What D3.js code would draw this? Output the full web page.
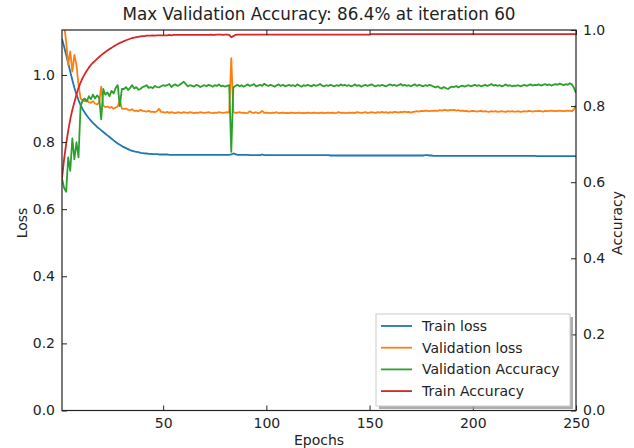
<!DOCTYPE html>
<html>
<head>
<meta charset="utf-8">
<script src="https://cdn.jsdelivr.net/npm/d3@7"></script>
<style>
  body { margin: 0; background: #fff; }
  text { font-family: "DejaVu Sans", sans-serif; fill: #222; }
</style>
</head>
<body>
<div id="chart"></div>
<script>
// values, one per epoch (1..250)
var trainLoss = [
  1.107,1.085,1.06,1.035,1.01,0.985,0.962,0.942,0.925,0.91,
  0.898,0.888,0.879,0.871,0.864,0.857,0.851,0.845,0.84,0.835,
  0.83,0.825,0.82,0.815,0.81,0.805,0.8,0.796,0.792,0.788,
  0.785,0.782,0.779,0.776,0.774,0.772,0.771,0.77,0.768,0.767,
  0.766,0.766,0.765,0.765,0.764,0.764,0.764,0.763,0.763,0.763,
  0.763,0.763,0.762,0.762,0.762,0.762,0.762,0.762,0.762,0.762,
  0.762,0.762,0.762,0.762,0.762,0.762,0.762,0.762,0.762,0.762,
  0.762,0.762,0.762,0.762,0.762,0.762,0.762,0.762,0.762,0.762,
  0.762,0.762,0.763,0.766,0.764,0.762,0.762,0.762,0.762,0.762,
  0.762,0.761,0.761,0.761,0.761,0.761,0.761,0.763,0.761,0.761,
  0.761,0.761,0.761,0.761,0.761,0.761,0.761,0.761,0.761,0.761,
  0.761,0.761,0.761,0.761,0.761,0.761,0.761,0.761,0.761,0.761,
  0.761,0.761,0.761,0.761,0.761,0.761,0.761,0.761,0.761,0.761,
  0.76,0.76,0.76,0.76,0.76,0.76,0.76,0.76,0.76,0.76,
  0.76,0.76,0.76,0.76,0.76,0.76,0.76,0.76,0.76,0.76,
  0.76,0.76,0.76,0.76,0.76,0.76,0.76,0.76,0.76,0.76,
  0.76,0.76,0.76,0.76,0.76,0.76,0.76,0.76,0.76,0.76,
  0.76,0.76,0.76,0.76,0.76,0.76,0.761,0.761,0.76,0.76,
  0.759,0.759,0.759,0.759,0.759,0.759,0.759,0.759,0.759,0.759,
  0.759,0.759,0.759,0.759,0.759,0.759,0.759,0.759,0.759,0.759,
  0.759,0.759,0.759,0.759,0.759,0.759,0.759,0.759,0.759,0.759,
  0.759,0.759,0.759,0.759,0.759,0.759,0.759,0.759,0.759,0.759,
  0.759,0.759,0.759,0.759,0.759,0.759,0.759,0.759,0.759,0.759,
  0.758,0.758,0.758,0.758,0.758,0.758,0.758,0.758,0.758,0.758,
  0.758,0.758,0.758,0.758,0.758,0.758,0.758,0.758,0.758,0.758
];
var valLoss = [
  1.16,1.15,1.10,1.03,1.07,1.01,1.06,1.03,0.97,0.93,
  0.925,0.922,0.925,0.919,0.917,0.922,0.915,0.912,0.918,0.965,
  0.908,0.904,0.906,0.902,0.905,0.899,0.903,0.906,0.925,0.9,
  0.898,0.9,0.896,0.895,0.898,0.893,0.894,0.892,0.896,0.893,
  0.892,0.891,0.893,0.89,0.891,0.889,0.892,0.899,0.89,0.889,
  0.888,0.89,0.887,0.889,0.888,0.886,0.889,0.888,0.887,0.889,
  0.888,0.887,0.889,0.888,0.886,0.888,0.887,0.889,0.888,0.887,
  0.888,0.889,0.887,0.886,0.888,0.887,0.889,0.888,0.887,0.888,
  0.889,0.888,1.05,0.889,0.887,0.888,0.889,0.887,0.888,0.886,
  0.887,0.892,0.888,0.887,0.889,0.886,0.888,0.893,0.887,0.888,
  0.887,0.886,0.888,0.887,0.889,0.886,0.887,0.888,0.886,0.887,
  0.886,0.888,0.887,0.886,0.887,0.888,0.886,0.887,0.886,0.888,
  0.887,0.886,0.888,0.887,0.886,0.887,0.888,0.886,0.887,0.888,
  0.887,0.888,0.886,0.887,0.889,0.887,0.888,0.887,0.886,0.888,
  0.887,0.888,0.887,0.889,0.888,0.887,0.888,0.889,0.887,0.888,
  0.889,0.888,0.887,0.889,0.888,0.89,0.888,0.889,0.887,0.889,
  0.888,0.89,0.889,0.888,0.89,0.889,0.891,0.889,0.89,0.888,
  0.89,0.891,0.892,0.891,0.893,0.892,0.894,0.893,0.892,0.893,
  0.893,0.894,0.893,0.895,0.894,0.896,0.895,0.894,0.896,0.895,
  0.896,0.894,0.895,0.893,0.894,0.892,0.893,0.891,0.892,0.893,
  0.892,0.891,0.892,0.893,0.891,0.892,0.891,0.89,0.892,0.891,
  0.892,0.89,0.891,0.892,0.891,0.89,0.892,0.891,0.892,0.891,
  0.891,0.892,0.89,0.891,0.892,0.891,0.893,0.892,0.891,0.892,
  0.892,0.893,0.892,0.891,0.893,0.892,0.893,0.894,0.893,0.892,
  0.893,0.894,0.893,0.892,0.893,0.894,0.893,0.892,0.897,0.91
];
var valAcc = [
  0.61,0.585,0.575,0.665,0.63,0.715,0.66,0.705,0.665,0.80,
  0.815,0.82,0.812,0.826,0.818,0.83,0.82,0.828,0.822,0.765,
  0.845,0.83,0.836,0.826,0.84,0.833,0.848,0.855,0.80,0.845,
  0.845,0.85,0.842,0.848,0.855,0.846,0.85,0.843,0.845,0.85,
  0.852,0.855,0.848,0.85,0.847,0.853,0.85,0.849,0.852,0.855,
  0.853,0.855,0.858,0.85,0.855,0.857,0.853,0.856,0.86,0.864,
  0.858,0.852,0.855,0.853,0.851,0.856,0.854,0.85,0.853,0.855,
  0.852,0.856,0.854,0.851,0.855,0.853,0.857,0.852,0.854,0.851,
  0.853,0.855,0.68,0.849,0.853,0.856,0.852,0.855,0.851,0.854,
  0.857,0.853,0.855,0.858,0.852,0.854,0.856,0.853,0.859,0.855,
  0.853,0.856,0.854,0.851,0.855,0.857,0.853,0.856,0.852,0.854,
  0.856,0.853,0.855,0.852,0.857,0.854,0.851,0.855,0.853,0.856,
  0.854,0.852,0.856,0.853,0.855,0.858,0.854,0.852,0.855,0.853,
  0.856,0.854,0.852,0.855,0.853,0.857,0.854,0.856,0.853,0.855,
  0.852,0.854,0.857,0.853,0.855,0.851,0.854,0.856,0.853,0.855,
  0.857,0.854,0.852,0.855,0.853,0.856,0.854,0.852,0.855,0.857,
  0.854,0.856,0.853,0.855,0.858,0.854,0.856,0.853,0.855,0.852,
  0.855,0.857,0.853,0.856,0.854,0.852,0.855,0.853,0.856,0.854,
  0.851,0.849,0.852,0.848,0.846,0.85,0.847,0.845,0.849,0.851,
  0.85,0.853,0.849,0.852,0.854,0.851,0.853,0.855,0.852,0.854,
  0.856,0.853,0.855,0.852,0.854,0.856,0.853,0.855,0.858,0.854,
  0.856,0.853,0.855,0.852,0.854,0.857,0.853,0.855,0.852,0.854,
  0.853,0.855,0.852,0.854,0.856,0.853,0.855,0.857,0.854,0.856,
  0.855,0.857,0.854,0.856,0.858,0.855,0.857,0.854,0.856,0.858,
  0.856,0.859,0.857,0.855,0.858,0.856,0.86,0.857,0.848,0.835
];
var trainAcc = [
  0.61,0.66,0.70,0.735,0.765,0.79,0.81,0.83,0.848,0.862,
  0.874,0.884,0.893,0.901,0.908,0.914,0.919,0.924,0.929,0.934,
  0.938,0.942,0.946,0.95,0.953,0.957,0.96,0.963,0.966,0.968,
  0.971,0.973,0.975,0.977,0.979,0.98,0.981,0.982,0.983,0.984,
  0.984,0.985,0.985,0.985,0.986,0.985,0.986,0.986,0.986,0.986,
  0.986,0.986,0.987,0.986,0.987,0.987,0.987,0.987,0.987,0.987,
  0.987,0.987,0.987,0.987,0.987,0.987,0.987,0.987,0.987,0.987,
  0.987,0.987,0.988,0.987,0.987,0.988,0.988,0.988,0.987,0.988,
  0.988,0.987,0.981,0.984,0.987,0.988,0.988,0.988,0.988,0.988,
  0.988,0.988,0.988,0.988,0.988,0.988,0.988,0.988,0.988,0.988,
  0.988,0.988,0.988,0.988,0.988,0.988,0.988,0.988,0.988,0.988,
  0.988,0.988,0.988,0.988,0.988,0.988,0.988,0.988,0.988,0.988,
  0.988,0.988,0.988,0.988,0.988,0.988,0.988,0.988,0.988,0.988,
  0.988,0.988,0.988,0.988,0.988,0.988,0.988,0.988,0.988,0.988,
  0.988,0.988,0.988,0.988,0.988,0.988,0.988,0.988,0.988,0.988,
  0.989,0.989,0.989,0.989,0.989,0.989,0.989,0.989,0.989,0.989,
  0.989,0.989,0.989,0.989,0.989,0.989,0.989,0.989,0.989,0.989,
  0.989,0.989,0.989,0.989,0.989,0.989,0.989,0.989,0.989,0.989,
  0.989,0.989,0.989,0.989,0.989,0.989,0.989,0.989,0.989,0.989,
  0.989,0.989,0.989,0.989,0.989,0.989,0.989,0.989,0.989,0.989,
  0.989,0.989,0.989,0.989,0.989,0.989,0.989,0.989,0.989,0.989,
  0.989,0.989,0.989,0.989,0.989,0.989,0.989,0.989,0.989,0.989,
  0.989,0.989,0.989,0.989,0.989,0.989,0.989,0.989,0.989,0.989,
  0.989,0.989,0.989,0.989,0.989,0.989,0.989,0.989,0.989,0.989,
  0.989,0.989,0.989,0.989,0.989,0.989,0.989,0.989,0.989,0.989
];
var xTicks = [50, 100, 150, 200, 250];
var yTicks = [0, 0.2, 0.4, 0.6, 0.8, 1.0];
var seriesNames = ["Train loss", "Validation loss", "Validation Accuracy", "Train Accuracy"];
var colors = ["#1f77b4", "#ff7f0e", "#2ca02c", "#d62728"];
var title = "Max Validation Accuracy: 86.4% at iteration 60";

var W = 634, H = 448;
var margin = { top: 30, right: 58, bottom: 37.5, left: 62 },
  width = W - margin.left - margin.right,
  height = H - margin.top - margin.bottom;

var svg = d3.select("#chart").append("svg")
  .attr("width", W).attr("height", H);

var g = svg.append("g")
  .attr("transform", "translate(" + margin.left + "," + margin.top + ")");

var xScale = d3.scaleLinear().domain([1, 250]).range([0, width]);
var yLoss = d3.scaleLinear().domain([0, 1.134]).range([height, 0]);
var yAcc = d3.scaleLinear().domain([0, 1]).range([height, 0]);

g.append("clipPath").attr("id", "clip")
  .append("rect").attr("width", width).attr("height", height);

function lineFor(scale) {
  return d3.line()
    .x(function (d, i) { return xScale(i + 1); })
    .y(function (d) { return scale(d); });
}

var plot = g.append("g").attr("clip-path", "url(#clip)");
var series = [
  { values: trainLoss, scale: yLoss },
  { values: valLoss, scale: yLoss },
  { values: valAcc, scale: yAcc },
  { values: trainAcc, scale: yAcc }
];
series.forEach(function (s, i) {
  plot.append("path")
    .attr("d", lineFor(s.scale)(s.values))
    .attr("fill", "none")
    .attr("stroke", colors[i])
    .attr("stroke-width", 1.8)
    .attr("stroke-linejoin", "round");
});

// axes, ticks pointing inward like matplotlib classic
function styleAxis(sel) {
  sel.select(".domain").remove();
  sel.selectAll(".tick line").attr("stroke", "#222");
  sel.selectAll(".tick text").attr("font-size", 14).attr("fill", "#222")
    .style("font-family", "DejaVu Sans");
}

g.append("g").attr("transform", "translate(0," + height + ")")
  .call(d3.axisBottom(xScale).tickValues(xTicks).tickSize(-5).tickPadding(8).tickFormat(d3.format("d")))
  .call(styleAxis);
g.append("g")
  .call(d3.axisTop(xScale).tickValues(xTicks).tickSize(-5).tickFormat(""))
  .call(styleAxis);
g.append("g")
  .call(d3.axisLeft(yLoss).tickValues(yTicks).tickSize(-5).tickPadding(7).tickFormat(d3.format(".1f")))
  .call(styleAxis);
g.append("g").attr("transform", "translate(" + width + ",0)")
  .call(d3.axisRight(yAcc).tickValues(yTicks).tickSize(-5).tickPadding(7).tickFormat(d3.format(".1f")))
  .call(styleAxis);

g.append("rect")
  .attr("width", width).attr("height", height)
  .attr("fill", "none").attr("stroke", "#222").attr("stroke-width", 1.2);

// labels
svg.append("text").attr("x", margin.left + width / 2).attr("y", 20)
  .attr("text-anchor", "middle").attr("font-size", 16.8).text(title);
svg.append("text").attr("x", margin.left + width / 2).attr("y", 445)
  .attr("text-anchor", "middle").attr("font-size", 14).text("Epochs");
svg.append("text")
  .attr("transform", "translate(27,223) rotate(-90)")
  .attr("text-anchor", "middle").attr("font-size", 14).text("Loss");
svg.append("text")
  .attr("transform", "translate(622,223) rotate(-90)")
  .attr("text-anchor", "middle").attr("font-size", 14).text("Accuracy");

// legend
var lg = svg.append("g").attr("transform", "translate(376,314)");
lg.append("rect").attr("x", 3).attr("y", 3).attr("width", 194).attr("height", 92)
  .attr("fill", "#999").attr("opacity", 0.8);
lg.append("rect").attr("width", 194).attr("height", 92)
  .attr("fill", "#fff").attr("stroke", "#ccc").attr("stroke-width", 1);
seriesNames.forEach(function (name, i) {
  var yy = 12 + i * 21.7;
  lg.append("line").attr("x1", 5).attr("x2", 36).attr("y1", yy).attr("y2", yy)
    .attr("stroke", colors[i]).attr("stroke-width", 1.8);
  lg.append("text").attr("x", 46).attr("y", yy + 5).attr("font-size", 14).text(name);
});
</script>
</body>
</html>
